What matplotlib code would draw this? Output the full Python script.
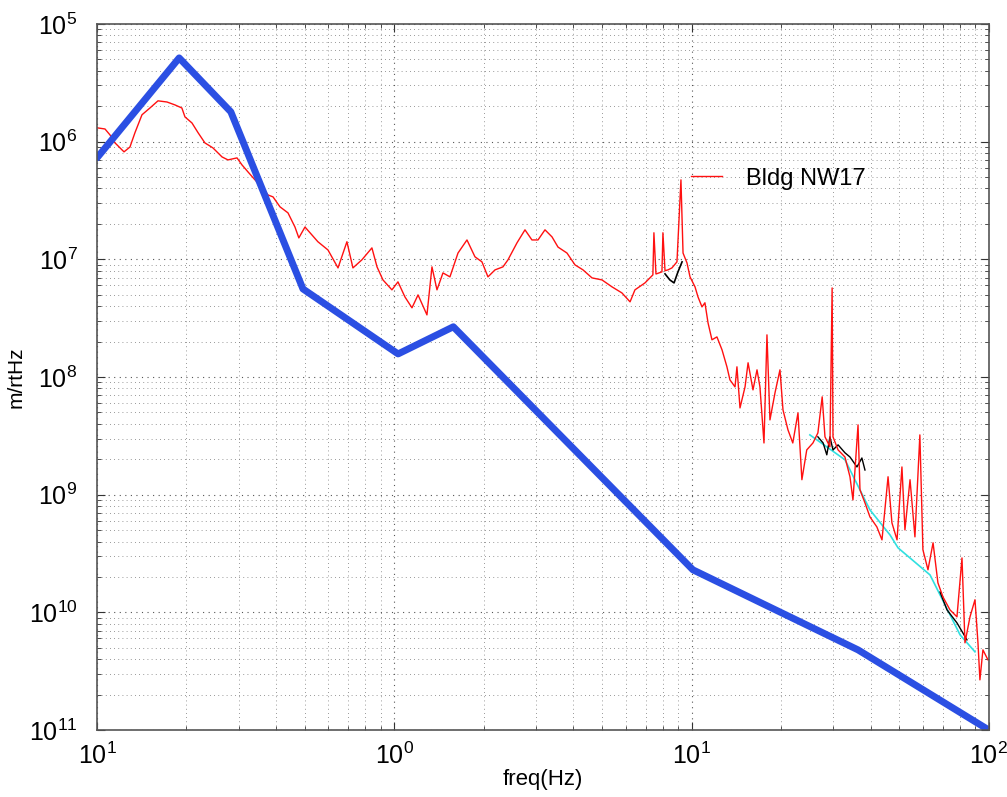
import matplotlib
matplotlib.use("Agg")
import matplotlib.pyplot as plt
from matplotlib.ticker import FixedLocator, FixedFormatter, LogLocator, NullFormatter

plt.rcParams["font.family"] = ["Liberation Sans", "DejaVu Sans"]
plt.rcParams["mathtext.fontset"] = "custom"
plt.rcParams["mathtext.rm"] = "Liberation Sans"
plt.rcParams["mathtext.it"] = "Liberation Sans"

# requirement curve (blue)
req_freq = [0.1, 0.189, 0.282, 0.493, 1.03, 1.58, 10.1, 36.3, 100.0]
req_amp = [7.27e-7, 5.14e-6, 1.79e-6, 5.6e-8, 1.57e-8, 2.67e-8, 2.30e-10, 4.80e-11, 1.0e-11]

# measured spectrum, Bldg NW17 (red)
nw17_freq = [
    0.100, 0.1064, 0.1106, 0.115, 0.1233, 0.1291, 0.1342, 0.1417, 0.1507, 0.1604,
    0.172, 0.1829, 0.193, 0.1977, 0.2087, 0.2188, 0.2307, 0.2455, 0.2634, 0.2758,
    0.2958, 0.3074, 0.322, 0.340, 0.359, 0.376, 0.391, 0.4127, 0.439, 0.4634,
    0.4775, 0.5008, 0.5284, 0.5534, 0.5984, 0.6468, 0.693, 0.726, 0.778, 0.841,
    0.875, 0.916, 0.982, 1.029, 1.086, 1.147, 1.202, 1.288, 1.339, 1.392,
    1.458, 1.539, 1.638, 1.756, 1.868, 1.972, 2.066, 2.182, 2.32, 2.412,
    2.587, 2.752, 2.904, 3.044, 3.213, 3.393, 3.554, 3.81, 4.055, 4.313,
    4.624, 4.996, 5.40, 5.83, 6.21, 6.45, 6.97, 7.41, 7.47, 7.59,
    7.95, 8.01, 8.14, 8.33, 8.59, 8.93, 9.21, 9.36, 9.65, 9.88,
    10.27, 10.51, 10.84, 11.09, 11.36, 11.71, 12.17, 12.66, 13.15, 13.46,
    14.0, 14.21, 14.55, 15.13, 15.49, 16.09, 16.6, 16.98, 17.52, 17.93,
    18.35, 19.08, 19.83, 20.3, 21.1, 21.9, 22.8, 23.5, 24.4, 25.6,
    26.6, 27.5, 28.1, 29.2, 29.7, 29.9, 31.1, 32.8, 34.1, 34.9,
    36.3, 36.85, 38.3, 39.8, 42.0, 43.7, 45.8, 47.2, 49.1, 51.0,
    52.2, 54.3, 56.4, 58.6, 60.0, 62.4, 64.9, 67.4, 70.1, 74.0,
    78.1, 81.2, 83.1, 86.4, 89.8, 91.9, 93.3, 95.5, 99.3,
]
nw17_amp = [
    1.31e-6, 1.28e-6, 1.14e-6, 9.75e-7, 8.18e-7, 9.0e-7, 1.19e-6, 1.69e-6, 1.93e-6, 2.22e-6,
    2.17e-6, 2.05e-6, 1.93e-6, 1.62e-6, 1.44e-6, 1.19e-6, 9.75e-7, 8.84e-7, 7.41e-7, 6.99e-7,
    7.27e-7, 6.34e-7, 5.53e-7, 4.73e-7, 4.12e-7, 3.52e-7, 3.39e-7, 2.79e-7, 2.48e-7, 1.88e-7,
    1.52e-7, 1.88e-7, 1.61e-7, 1.41e-7, 1.20e-7, 8.45e-8, 1.41e-7, 8.45e-8, 9.89e-8, 1.25e-7,
    8.62e-8, 6.68e-8, 5.50e-8, 6.43e-8, 4.79e-8, 3.87e-8, 4.98e-8, 3.37e-8, 8.62e-8, 5.50e-8,
    7.66e-8, 7.09e-8, 1.13e-7, 1.46e-7, 1.05e-7, 9.51e-8, 7.09e-8, 8.13e-8, 8.62e-8, 9.89e-8,
    1.38e-7, 1.78e-7, 1.46e-7, 1.46e-7, 1.78e-7, 1.55e-7, 1.27e-7, 1.13e-7, 8.96e-8, 8.13e-8,
    6.95e-8, 6.68e-8, 5.83e-8, 5.18e-8, 4.35e-8, 5.50e-8, 6.30e-8, 7.37e-8, 1.68e-7, 7.5e-8,
    7.82e-8, 1.68e-7, 8.0e-8, 8.13e-8, 8.45e-8, 9.51e-8, 4.73e-7, 1.13e-7, 9.32e-8, 7.09e-8,
    5.83e-8, 4.79e-8, 3.94e-8, 4.27e-8, 2.88e-8, 2.07e-8, 2.19e-8, 1.70e-8, 1.22e-8, 9.45e-9,
    8.24e-9, 1.22e-8, 5.46e-9, 8.24e-9, 1.32e-8, 7.77e-9, 1.15e-8, 8.24e-9, 2.75e-9, 2.28e-8,
    4.32e-9, 7.33e-9, 1.15e-8, 5.25e-9, 3.55e-9, 2.75e-9, 4.95e-9, 1.34e-9, 2.40e-9, 2.75e-9,
    3.35e-9, 6.78e-9, 3.10e-9, 2.55e-9, 5.71e-8, 3.10e-9, 2.40e-9, 2.09e-9, 1.42e-9, 9.03e-10,
    3.92e-9, 1.10e-9, 8.52e-10, 6.48e-10, 5.32e-10, 4.13e-10, 1.42e-9, 5.76e-10, 4.13e-10, 1.72e-9,
    5.02e-10, 1.34e-9, 4.38e-10, 3.22e-9, 3.40e-10, 2.30e-10, 3.90e-10, 1.78e-10, 1.35e-10, 1.05e-10,
    9.16e-11, 2.90e-10, 5.51e-11, 9.16e-11, 1.28e-10, 5.51e-11, 2.67e-11, 4.80e-11, 3.95e-11,
]

# other traces partly hidden under the red one
black_freq = [8.14, 8.45, 8.73, 9.0, 9.29]
black_amp = [7.52e-8, 6.68e-8, 6.30e-8, 7.82e-8, 9.51e-8]
black_hf_freq = [26.6, 27.7, 28.5, 29.2, 29.9, 31.1, 32.8, 34.1, 36.0, 37.4, 38.3]
black_hf_amp = [3.10e-9, 2.75e-9, 2.18e-9, 3.10e-9, 2.40e-9, 2.65e-9, 2.27e-9, 2.09e-9, 1.72e-9, 2.05e-9, 1.62e-9]
black_top_freq = [68.5, 72.3, 78.1, 84.4]
black_top_amp = [1.49e-10, 1.05e-10, 8.14e-11, 5.84e-11]
cyan_freq = [25.0, 32.8, 39.8, 46.5, 49.5, 63.4, 80.0, 89.8]
cyan_amp = [3.22e-9, 1.98e-9, 7.43e-10, 4.55e-10, 3.53e-10, 2.08e-10, 6.44e-11, 4.62e-11]

x_ticks = [0.1, 1, 10, 100]
x_tick_labels = ["$10^{1}$", "$10^{0}$", "$10^{1}$", "$10^{2}$"]
y_ticks = [1e-11, 1e-10, 1e-9, 1e-8, 1e-7, 1e-6, 1e-5]
y_tick_labels = ["$10^{11}$", "$10^{10}$", "$10^{9}$", "$10^{8}$", "$10^{7}$", "$10^{6}$", "$10^{5}$"]


def main() -> None:
    fig = plt.figure(figsize=(10.07, 7.97), dpi=100)
    ax = fig.add_axes([0.0963, 0.084, 0.8857, 0.886])

    ax.loglog(cyan_freq, cyan_amp, color="#30e0e0", lw=1.2)
    ax.loglog(black_freq, black_amp, color="black", lw=1.2)
    ax.loglog(black_hf_freq, black_hf_amp, color="black", lw=1.0)
    ax.loglog(black_top_freq, black_top_amp, color="black", lw=1.0)
    ax.loglog(nw17_freq, nw17_amp, color="#ff1010", lw=1.0, label="Bldg NW17")
    ax.loglog(req_freq, req_amp, color="#2b4fe3", lw=5.0, solid_capstyle="round")

    ax.set_xlim(0.1, 100)
    ax.set_ylim(1e-11, 1e-5)

    ax.xaxis.set_major_locator(FixedLocator(x_ticks))
    ax.xaxis.set_major_formatter(FixedFormatter(x_tick_labels))
    ax.yaxis.set_major_locator(FixedLocator(y_ticks))
    ax.yaxis.set_major_formatter(FixedFormatter(y_tick_labels))
    for axis in (ax.xaxis, ax.yaxis):
        axis.set_minor_locator(LogLocator(base=10, subs=range(2, 10)))
        axis.set_minor_formatter(NullFormatter())

    ax.tick_params(which="both", direction="in", top=True, right=True, color="#333333")
    ax.tick_params(which="major", length=6, labelsize=18)
    ax.tick_params(axis="y", which="major", pad=14)
    ax.tick_params(axis="x", which="major", pad=9)
    ax.tick_params(which="minor", length=3)
    ax.grid(True, which="major", linestyle=(0, (1, 4)), color="#555555", linewidth=0.8)
    ax.grid(True, which="minor", linestyle=(0, (1, 4)), color="#777777", linewidth=0.6)
    for spine in ax.spines.values():
        spine.set_color("#555555")
        spine.set_linewidth(1.2)

    ax.set_xlabel("freq(Hz)", fontsize=16, labelpad=0)
    ax.set_ylabel("m/rtHz", fontsize=15, labelpad=2)

    ax.legend(loc=(0.655, 0.752), frameon=False, fontsize=17,
              handlelength=1.35, handletextpad=1.0)

    fig.savefig("out.png", dpi=100)
    plt.close(fig)


if __name__ == "__main__":
    main()
